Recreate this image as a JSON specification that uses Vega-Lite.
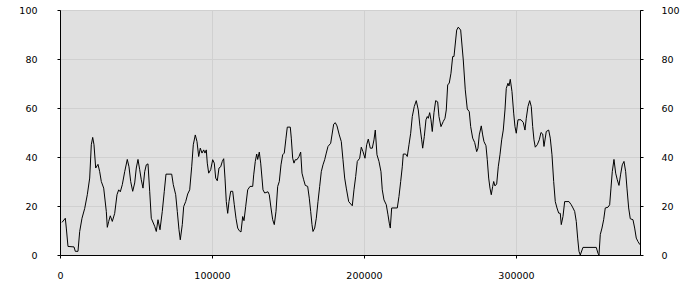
{
  "$schema": "https://vega.github.io/schema/vega-lite/v6.json",
  "width": 580,
  "height": 245,
  "autosize": {"type": "none"},
  "padding": {"left": 60, "top": 10, "right": 60, "bottom": 45},
  "background": "white",
  "view": {"fill": "#e0e0e0", "stroke": "black", "strokeWidth": 1},
  "config": {
    "font": "DejaVu Sans",
    "axis": {
      "domainColor": "black",
      "tickColor": "black",
      "tickSize": 3,
      "labelFont": "DejaVu Sans",
      "labelFontSize": 9.5,
      "labelColor": "black",
      "gridColor": "#d0d0d0",
      "gridWidth": 1,
      "labelFlush": false,
      "labelOverlap": false,
      "title": null
    }
  },
  "data": {"values": [
    {"x":1316,"y":13.3},{"x":3487,"y":15},{"x":4145,"y":11},{"x":5263,"y":3.5},{"x":9211,"y":3.3},{"x":10066,"y":1.5},{"x":11842,"y":1.5},{"x":12961,"y":9.6},{"x":14474,"y":15},{"x":16250,"y":19},{"x":17961,"y":24.6},{"x":19540,"y":31.4},{"x":20593,"y":45},{"x":21513,"y":48},{"x":22368,"y":45},{"x":23487,"y":35.5},{"x":25000,"y":37},{"x":26118,"y":34},{"x":27171,"y":30},{"x":28750,"y":27.3},{"x":30461,"y":17.8},{"x":31118,"y":11.3},{"x":32039,"y":13.7},{"x":33092,"y":16},{"x":34408,"y":13.7},{"x":35987,"y":17},{"x":37500,"y":24.6},{"x":38618,"y":26.6},{"x":39671,"y":25.8},{"x":40987,"y":28.7},{"x":42566,"y":34},{"x":44276,"y":39},{"x":45395,"y":36},{"x":46513,"y":30},{"x":47829,"y":26},{"x":49145,"y":29.4},{"x":50197,"y":35.5},{"x":51316,"y":39},{"x":52434,"y":34.8},{"x":53487,"y":30.7},{"x":54605,"y":27.3},{"x":55724,"y":34},{"x":56776,"y":36.8},{"x":57895,"y":37.2},{"x":59013,"y":26},{"x":60066,"y":15},{"x":62303,"y":11.7},{"x":63355,"y":9.6},{"x":64474,"y":14.4},{"x":65789,"y":10.3},{"x":67303,"y":17.8},{"x":68618,"y":26},{"x":69737,"y":33},{"x":72368,"y":33},{"x":73487,"y":33},{"x":74539,"y":28.7},{"x":76118,"y":24.6},{"x":77171,"y":17.8},{"x":78289,"y":10.3},{"x":79145,"y":6.2},{"x":80461,"y":12.4},{"x":81382,"y":19.8},{"x":82697,"y":21.8},{"x":84013,"y":24.9},{"x":85329,"y":26.6},{"x":86645,"y":36},{"x":87697,"y":45},{"x":89013,"y":49},{"x":90132,"y":46.3},{"x":91250,"y":40.2},{"x":92303,"y":43.6},{"x":93421,"y":41.6},{"x":94539,"y":42.9},{"x":95395,"y":41.6},{"x":96250,"y":42.9},{"x":96908,"y":37.5},{"x":97829,"y":33.4},{"x":99145,"y":34.8},{"x":100461,"y":38.9},{"x":101513,"y":37.5},{"x":102434,"y":31.4},{"x":103487,"y":30.3},{"x":104605,"y":35.5},{"x":105724,"y":36},{"x":106776,"y":38.2},{"x":107697,"y":39.3},{"x":108553,"y":31.4},{"x":109408,"y":21.8},{"x":110329,"y":17},{"x":111184,"y":21.8},{"x":112303,"y":26},{"x":113618,"y":26},{"x":114671,"y":20.5},{"x":115789,"y":15},{"x":116908,"y":11},{"x":117961,"y":9.9},{"x":119079,"y":9.4},{"x":120197,"y":15.7},{"x":121053,"y":14},{"x":122171,"y":19.8},{"x":123487,"y":26.6},{"x":125000,"y":28},{"x":126776,"y":28},{"x":127434,"y":32.7},{"x":128487,"y":38.2},{"x":129408,"y":41.2},{"x":130066,"y":39},{"x":131118,"y":42},{"x":132039,"y":37.5},{"x":132895,"y":31.4},{"x":133553,"y":26.6},{"x":134671,"y":25.3},{"x":136842,"y":25.8},{"x":137697,"y":24.6},{"x":138816,"y":19.2},{"x":139934,"y":14.4},{"x":140987,"y":12.4},{"x":142105,"y":17.8},{"x":143224,"y":28},{"x":144276,"y":30},{"x":145395,"y":36.8},{"x":146513,"y":40.9},{"x":147566,"y":41.6},{"x":148684,"y":47.7},{"x":149539,"y":52.2},{"x":151513,"y":52.2},{"x":152171,"y":47.7},{"x":153092,"y":39.5},{"x":153947,"y":37.5},{"x":154803,"y":38.9},{"x":155921,"y":38.9},{"x":157237,"y":40.2},{"x":158355,"y":42},{"x":159211,"y":33.4},{"x":160329,"y":30.7},{"x":161382,"y":28.4},{"x":162961,"y":28},{"x":164013,"y":23.2},{"x":164934,"y":17.8},{"x":165789,"y":12.4},{"x":166447,"y":9.6},{"x":167566,"y":11},{"x":168618,"y":15},{"x":169737,"y":21.8},{"x":170855,"y":28},{"x":171908,"y":34},{"x":173026,"y":36.8},{"x":174145,"y":38.9},{"x":175197,"y":41.6},{"x":176316,"y":44.3},{"x":178092,"y":45.6},{"x":178947,"y":49},{"x":180066,"y":53.4},{"x":181118,"y":54},{"x":182237,"y":52.7},{"x":183750,"y":49},{"x":185066,"y":46.3},{"x":186184,"y":38.9},{"x":187303,"y":31.4},{"x":188355,"y":27.3},{"x":189934,"y":21.8},{"x":192303,"y":20.1},{"x":193421,"y":26.6},{"x":194539,"y":32},{"x":195592,"y":38.2},{"x":197171,"y":39.5},{"x":198224,"y":44},{"x":199342,"y":42.2},{"x":200658,"y":39.5},{"x":201776,"y":45},{"x":202829,"y":47.3},{"x":204145,"y":43.6},{"x":205461,"y":43.6},{"x":206579,"y":47},{"x":207434,"y":51},{"x":208553,"y":40.9},{"x":209868,"y":38.2},{"x":211184,"y":34},{"x":212039,"y":26.6},{"x":213158,"y":22.5},{"x":214671,"y":20.5},{"x":215789,"y":16.4},{"x":216645,"y":13},{"x":217303,"y":11},{"x":218224,"y":19.2},{"x":221908,"y":19.2},{"x":223026,"y":23.9},{"x":224145,"y":30},{"x":225197,"y":36},{"x":225855,"y":41.2},{"x":227434,"y":41.2},{"x":228487,"y":40.2},{"x":229605,"y":45},{"x":230724,"y":49.7},{"x":231776,"y":56.5},{"x":233092,"y":60.6},{"x":234408,"y":63},{"x":235724,"y":59.2},{"x":236842,"y":52.4},{"x":237961,"y":47},{"x":238618,"y":43.6},{"x":239671,"y":48.3},{"x":240789,"y":55.2},{"x":241645,"y":56.5},{"x":242303,"y":55.8},{"x":243224,"y":58.1},{"x":244079,"y":55.2},{"x":244934,"y":50.4},{"x":246053,"y":58.1},{"x":247171,"y":63},{"x":248487,"y":62.5},{"x":249342,"y":56.5},{"x":250658,"y":52.4},{"x":252171,"y":54.5},{"x":253289,"y":55.8},{"x":254145,"y":59.2},{"x":255066,"y":69.4},{"x":256118,"y":70.2},{"x":257237,"y":74.2},{"x":258355,"y":81},{"x":259211,"y":81},{"x":260987,"y":91.8},{"x":262039,"y":93},{"x":263618,"y":91.8},{"x":265329,"y":79.6},{"x":266645,"y":67.4},{"x":267961,"y":59.6},{"x":269276,"y":58.5},{"x":270197,"y":52.4},{"x":271513,"y":47.7},{"x":272829,"y":45.9},{"x":274145,"y":42.2},{"x":275000,"y":43.6},{"x":275855,"y":49},{"x":277171,"y":52.7},{"x":278092,"y":49},{"x":278947,"y":46.3},{"x":280263,"y":44.6},{"x":281118,"y":38.9},{"x":282039,"y":31.4},{"x":282895,"y":27.3},{"x":283750,"y":24.6},{"x":284671,"y":28},{"x":285329,"y":30},{"x":286184,"y":28.2},{"x":287303,"y":29},{"x":288355,"y":36},{"x":289474,"y":40.9},{"x":290592,"y":47},{"x":291645,"y":51},{"x":292763,"y":59.2},{"x":293618,"y":68},{"x":294737,"y":70.1},{"x":295395,"y":69},{"x":296250,"y":71.7},{"x":297368,"y":66.7},{"x":298487,"y":57.9},{"x":299342,"y":52.4},{"x":300197,"y":49.7},{"x":301316,"y":55.2},{"x":303289,"y":55.2},{"x":304803,"y":54.1},{"x":305921,"y":51},{"x":306776,"y":55.8},{"x":307895,"y":60.6},{"x":309013,"y":63},{"x":310066,"y":60.6},{"x":310987,"y":52.4},{"x":311842,"y":47},{"x":312697,"y":44},{"x":314013,"y":45},{"x":315329,"y":47},{"x":316447,"y":50},{"x":317566,"y":49.4},{"x":318421,"y":44.3},{"x":319934,"y":50.4},{"x":321513,"y":51},{"x":322566,"y":47.7},{"x":323684,"y":40.9},{"x":324803,"y":30},{"x":325855,"y":21.8},{"x":326974,"y":19.2},{"x":328092,"y":17.1},{"x":329145,"y":17},{"x":329803,"y":12.4},{"x":330921,"y":15.7},{"x":332039,"y":21.8},{"x":334868,"y":21.8},{"x":336382,"y":20.5},{"x":337500,"y":19.2},{"x":338618,"y":17.8},{"x":339671,"y":13.7},{"x":340592,"y":6.9},{"x":341447,"y":1.5},{"x":342303,"y":0},{"x":344079,"y":3.1},{"x":352829,"y":3.1},{"x":353947,"y":0.7},{"x":354605,"y":0},{"x":355461,"y":8.3},{"x":356579,"y":11},{"x":357697,"y":14.4},{"x":358750,"y":19.2},{"x":360526,"y":19.5},{"x":361645,"y":20.5},{"x":362500,"y":27.3},{"x":363355,"y":34},{"x":364474,"y":39},{"x":365592,"y":33.4},{"x":366645,"y":30.7},{"x":367763,"y":28.4},{"x":368882,"y":33},{"x":369934,"y":36.8},{"x":371053,"y":38.2},{"x":372171,"y":34},{"x":373026,"y":27.3},{"x":374145,"y":19.2},{"x":375197,"y":14.8},{"x":376974,"y":14.4},{"x":378092,"y":11},{"x":379145,"y":6.9},{"x":380263,"y":5.5},{"x":381579,"y":4.2}
  ]},
  "encoding": {
    "x": {
      "field": "x",
      "type": "quantitative",
      "scale": {"domain": [0, 381600], "nice": false},
      "axis": {"values": [0, 100000, 200000, 300000], "format": "d", "labelPadding": 12, "grid": true}
    }
  },
  "layer": [
    {
      "mark": {"type": "line", "color": "black", "strokeWidth": 1},
      "encoding": {
        "y": {
          "field": "y",
          "type": "quantitative",
          "scale": {"domain": [0, 100], "nice": false},
          "axis": {"orient": "left", "values": [0, 20, 40, 60, 80, 100], "labelPadding": 20, "grid": true}
        }
      }
    },
    {
      "mark": {"type": "line", "opacity": 0},
      "encoding": {
        "y": {
          "field": "y",
          "type": "quantitative",
          "scale": {"domain": [0, 100], "nice": false},
          "axis": {"orient": "right", "values": [0, 20, 40, 60, 80, 100], "labelPadding": 18, "grid": false}
        }
      }
    }
  ],
  "resolve": {"axis": {"y": "independent"}}
}
